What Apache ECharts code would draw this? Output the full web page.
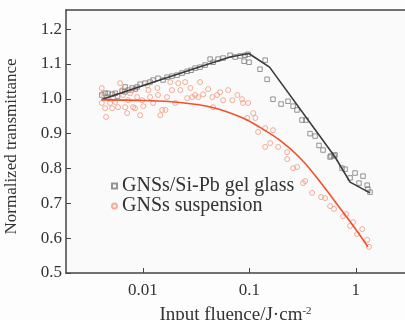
<!DOCTYPE html>
<html>
<head>
<meta charset="utf-8">
<script src="https://cdn.jsdelivr.net/npm/echarts@6/dist/echarts.min.js"></script>
<style>html,body{margin:0;padding:0;background:#fdfdfd;}#c{width:405px;height:320px;}</style>
</head>
<body>
<div id="c"></div>
<script>
var seriesNames = ['GNSs/Si-Pb gel glass', 'GNSs suspension'];
var glassPoints = [[0.00412,1.011],[0.00443,1.016],[0.00472,1.016],[0.0046,1.005],[0.00515,1.013],[0.0055,1.016],[0.0058,1.008],[0.0064,1.022],[0.0068,1.02],[0.00683,1.034],[0.00728,1.025],[0.00794,1.031],[0.0085,1.028],[0.00885,1.034],[0.00944,1.042],[0.0105,1.045],[0.0117,1.048],[0.0125,1.054],[0.0139,1.059],[0.0155,1.054],[0.0169,1.062],[0.0188,1.065],[0.021,1.068],[0.0234,1.074],[0.0261,1.079],[0.0284,1.082],[0.031,1.088],[0.0345,1.091],[0.0385,1.097],[0.0429,1.114],[0.0457,1.105],[0.0509,1.114],[0.0568,1.117],[0.066,1.125],[0.0736,1.12],[0.082,1.123],[0.0914,1.125],[0.0975,1.128],[0.0893,1.108],[0.0995,1.105],[0.126,1.085],[0.141,1.111],[0.147,1.056],[0.167,0.999],[0.199,0.985],[0.231,0.993],[0.258,0.979],[0.281,0.968],[0.313,0.939],[0.341,0.939],[0.372,0.90],[0.415,0.893],[0.452,0.866],[0.493,0.853],[0.574,0.833],[0.586,0.836],[0.625,0.836],[0.639,0.839],[0.743,0.801],[0.794,0.798],[0.884,0.773],[0.985,0.787],[1.074,0.758],[1.17,0.778],[1.28,0.752],[1.30,0.741],[1.36,0.732]];
var suspPoints = [[0.00412,1.031],[0.00424,1.016],[0.00412,0.988],[0.00443,0.973],[0.00452,0.948],[0.00472,1.002],[0.00493,0.988],[0.00515,0.973],[0.00526,1.005],[0.0055,0.991],[0.00586,0.976],[0.00612,1.045],[0.0064,1.025],[0.00654,1.011],[0.00683,0.976],[0.00713,0.959],[0.00728,0.996],[0.0076,1.016],[0.00794,1.025],[0.00811,0.976],[0.00847,0.973],[0.00885,1.005],[0.00944,0.953],[0.00987,0.996],[0.0101,0.979],[0.011,1.039],[0.0113,1.025],[0.0117,1.005],[0.0125,0.988],[0.0137,1.031],[0.0139,1.011],[0.0146,0.953],[0.0152,0.968],[0.0163,0.968],[0.0169,1.005],[0.0181,1.048],[0.0188,1.025],[0.0202,0.988],[0.0215,1.045],[0.0225,1.025],[0.025,1.048],[0.0261,1.002],[0.028,1.031],[0.0292,1.005],[0.031,1.011],[0.0332,1.005],[0.0345,1.048],[0.0369,1.013],[0.0411,1.028],[0.045,1.005],[0.0457,0.976],[0.0499,1.011],[0.0533,1.019],[0.0568,0.996],[0.0634,1.025],[0.0693,0.996],[0.0773,1.011],[0.0855,0.999],[0.0874,0.988],[0.0955,0.945],[0.0975,0.988],[0.109,0.959],[0.114,0.945],[0.121,0.905],[0.141,0.916],[0.141,0.862],[0.157,0.873],[0.167,0.910],[0.187,0.862],[0.227,0.847],[0.227,0.827],[0.258,0.801],[0.281,0.804],[0.335,0.764],[0.32,0.758],[0.389,0.730],[0.472,0.718],[0.515,0.715],[0.574,0.692],[0.625,0.684],[0.76,0.663],[0.811,0.669],[0.884,0.635],[0.943,0.646],[1.15,0.626],[1.03,0.612],[1.28,0.595],[1.33,0.575]];
var glassFit = [[0.0041,0.998],[0.0117,1.045],[0.0345,1.092],[0.066,1.12],[0.099,1.13],[0.155,1.091],[0.639,0.833],[0.884,0.761],[1.36,0.730]];
var suspFit = [[0.0041,0.997],[0.0105,0.995],[0.021,0.99],[0.045,0.975],[0.087,0.945],[0.126,0.918],[0.2,0.878],[0.3,0.830],[0.46,0.763],[0.712,0.686],[1.03,0.620],[1.3,0.575]];
var yTicks = [0.5, 0.6, 0.7, 0.8, 0.9, 1.0, 1.1, 1.2];

var font = 'Liberation Serif';
var chart = echarts.init(document.getElementById('c'));
chart.setOption({
  backgroundColor: '#fdfdfd',
  animation: false,
  grid: {left: 66, right: 0, top: 10, bottom: 47, show: true, backgroundColor: '#fafafa', borderWidth: 0, containLabel: false, outerBoundsMode: 'none'},
  legend: {
    orient: 'vertical', left: 106, top: 171, itemGap: 0, itemWidth: 5, itemHeight: 5,
    data: seriesNames,
    textStyle: {fontFamily: font, fontSize: 20, color: '#333', lineHeight: 20}
  },
  xAxis: [{
    type: 'log', min: 0.0019, max: 2.9, position: 'bottom',
    axisLine: {lineStyle: {color: '#444', width: 1.5}},
    axisTick: {inside: true, length: 5, lineStyle: {color: '#444'}},
    splitLine: {show: false},
    axisLabel: {showMinLabel: false, showMaxLabel: false, fontFamily: font, fontSize: 17, color: '#333', margin: 9,
      formatter: function (v) { return v >= 1 ? String(Math.round(v)) : String(parseFloat(v.toPrecision(2))); }},
    name: 'Input fluence/J·cm{s|-2}', nameLocation: 'middle', nameGap: 33,
    nameTextStyle: {fontFamily: font, fontSize: 19, color: '#333', rich: {s: {fontFamily: font, fontSize: 11, color: '#333', verticalAlign: 'top', lineHeight: 10, padding: [0,0,7,0]}}}
  }, {
    type: 'log', min: 0.0019, max: 2.9, position: 'top',
    axisLine: {lineStyle: {color: '#444', width: 1.5}},
    axisTick: {show: false}, axisLabel: {show: false}, splitLine: {show: false}
  }],
  yAxis: {
    type: 'value', min: 0.5, max: 1.255, interval: 0.1,
    axisLine: {show: true, lineStyle: {color: '#444', width: 1.5}},
    axisTick: {inside: true, length: 5, lineStyle: {color: '#444'}},
    splitLine: {show: false},
    axisLabel: {showMaxLabel: false, fontFamily: font, fontSize: 17, color: '#333', margin: 4,
      formatter: function (v) { return yTicks.indexOf(Math.round(v*10)/10) >= 0 ? v.toFixed(1) : ''; }},
    name: 'Normalized transmittance', nameLocation: 'middle', nameGap: 46,
    nameTextStyle: {fontFamily: font, fontSize: 17, color: '#333', padding: [0, 10, 0, 0]}
  },
  series: [
    {name: seriesNames[0], type: 'scatter', data: glassPoints, symbol: 'rect', symbolSize: 4.5,
      itemStyle: {color: 'rgba(0,0,0,0)', borderColor: '#7a7a7a', borderWidth: 1}},
    {name: seriesNames[1], type: 'scatter', data: suspPoints, symbol: 'circle', symbolSize: 5,
      itemStyle: {color: 'rgba(0,0,0,0)', borderColor: '#f39a80', borderWidth: 1}},
    {name: 'fit1', type: 'line', data: glassFit, showSymbol: false, symbol: 'none', smooth: false,
      lineStyle: {color: '#3a3a3a', width: 1.6}, z: 5},
    {name: 'fit2', type: 'line', data: suspFit, showSymbol: false, symbol: 'none', smooth: 0.4,
      lineStyle: {color: '#f2502a', width: 1.6}, z: 5}
  ]
});
</script>
</body>
</html>
